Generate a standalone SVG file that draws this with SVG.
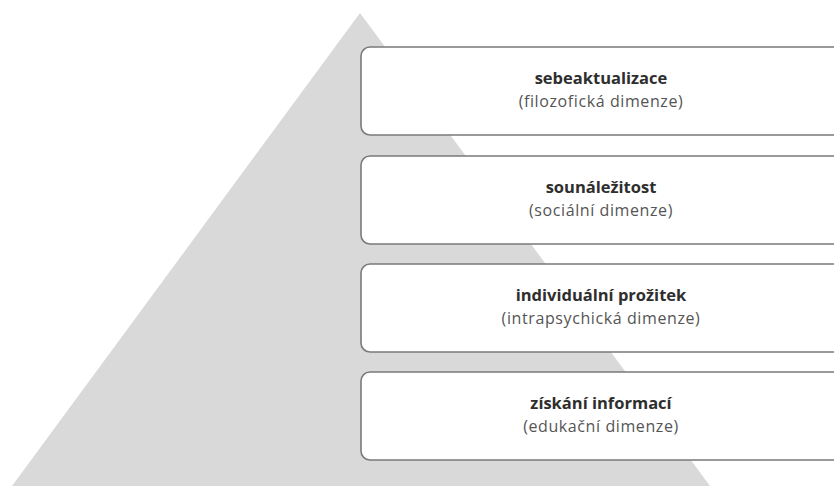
<svg xmlns="http://www.w3.org/2000/svg" width="834" height="486" viewBox="0 0 834 486">
<style>
.box{fill:#ffffff;stroke:#7a7a7a;stroke-width:1.6}
.t{font-family:"Open Sans","Noto Sans",sans-serif;font-weight:bold;font-size:16.5px;fill:#2e2e2e;text-anchor:middle}
.s{font-family:"Open Sans","Noto Sans",sans-serif;font-size:16px;letter-spacing:0.6px;fill:#555555;text-anchor:middle}
</style>
<rect width="834" height="486" fill="#ffffff"/>
<polygon id="pyramid" points="360,13 12,486 710,486" fill="#d9d9d9"/>
<g id="connectors"></g>
<g id="level4">
<rect class="box" x="361" y="47" width="490" height="88" rx="9"/>
<text class="t" x="601" y="84">sebeaktualizace</text>
<text class="s" x="601" y="106.5">(filozofická dimenze)</text>
</g>
<g id="level3">
<rect class="box" x="361" y="156" width="490" height="88" rx="9"/>
<text class="t" x="601" y="193">sounáležitost</text>
<text class="s" x="601" y="215.5">(sociální dimenze)</text>
</g>
<g id="level2">
<rect class="box" x="361" y="264" width="490" height="88" rx="9"/>
<text class="t" x="601" y="301">individuální prožitek</text>
<text class="s" x="601" y="323.5">(intrapsychická dimenze)</text>
</g>
<g id="level1">
<rect class="box" x="361" y="372" width="490" height="88" rx="9"/>
<text class="t" x="601" y="409">získání informací</text>
<text class="s" x="601" y="431.5">(edukační dimenze)</text>
</g>
</svg>
